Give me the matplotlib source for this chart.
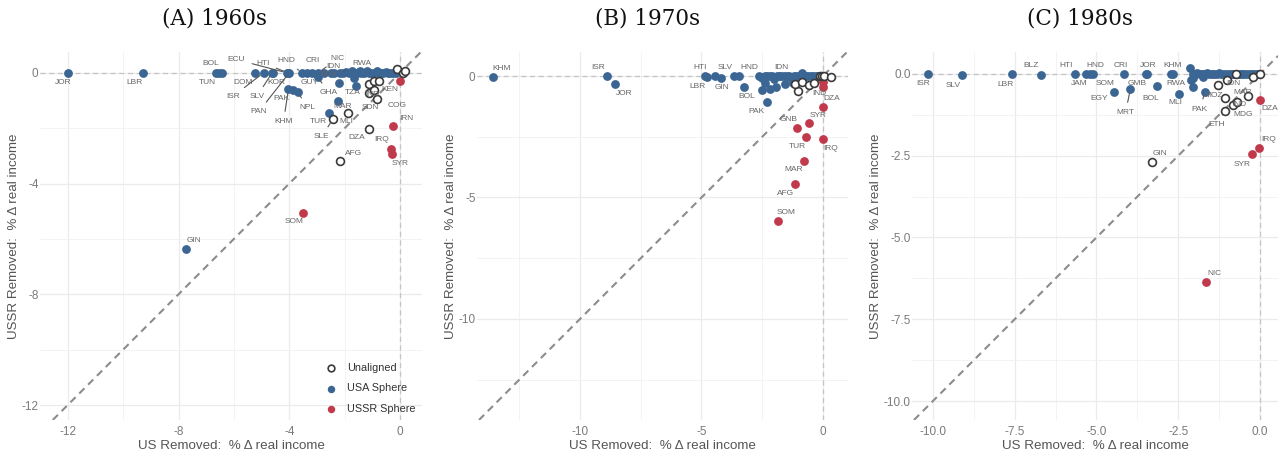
import matplotlib
matplotlib.use("Agg")
import matplotlib.pyplot as plt
import numpy as np

# ---- 1960s ----
a_code = ["JOR", "LBR", "TUN", "", "BOL", "DOM", "ISR", "SLV", "KOR",
          "ECU", "HTI", "PAN", "HND", "GUY", "CRI", "NIC", "EGY", "IDN", "RWA",
          "", "", "", "", "", "", "", "", "", "", "", "", "", "", "", "", "", "", "", "", "", "",
          "", "", "",
          "GHA", "KHM", "PAK", "NPL", "TZA", "", "", "MAR", "TUR", "GIN",
          "SOM", "IRN", "IRQ", "SYR", "COG",
          "AFG", "DZA", "MLI", "SLE", "SDN", "IND", "KEN", "", "", "", "", "", ""]
a_us = [-12.0, -9.27, -6.64, -6.53, -6.43, -5.23, -4.93, -4.62, -4.58,
        -4.10, -4.05, -4.00, -3.55, -3.37, -3.19, -2.95, -2.75, -2.50, -2.17,
        -2.40, -2.05, -1.95, -1.85, -1.75, -1.65, -1.55, -1.48, -1.40, -1.30, -1.20, -1.12,
        -1.05, -0.95, -0.85, -0.78, -0.70, -0.60, -0.50, -0.42, -0.35, -0.25,
        -1.45, -0.85, -0.15,
        -2.97, -4.03, -3.85, -3.69, -2.20, -1.59, -1.68, -2.26, -2.55, -7.74,
        -3.49, -0.24, -0.34, -0.30, 0.00,
        -2.17, -1.12, -1.87, -2.43, -0.84, -1.14, -0.93, -1.14, -0.96, -0.75, -0.12, 0.10, 0.18]
a_ussr = [0.0, 0.0, 0.0, 0.0, 0.0, 0.0, 0.0, 0.0, 0.0,
          0.0, 0.0, 0.0, 0.0, 0.0, 0.0, 0.0, -0.02, 0.0, 0.0,
          0.0, 0.0, 0.02, 0.0, 0.05, 0.0, 0.0, 0.03, 0.0, 0.0, 0.05, 0.0,
          0.0, 0.0, 0.04, 0.0, 0.0, 0.0, 0.02, 0.0, 0.0, 0.0,
          0.08, 0.06, 0.0,
          -0.17, -0.59, -0.63, -0.71, -0.36, -0.48, -0.20, -1.02, -1.44, -6.38,
          -5.05, -1.92, -2.74, -2.94, -0.29,
          -3.18, -2.04, -1.47, -1.68, -0.93, -0.72, -0.62, -0.42, -0.29, -0.29, 0.13, 0.00, 0.06]
a_bloc = ["A"] * 54 + ["S"] * 5 + ["U"] * 13

# ---- 1970s ----
b_code = ["KHM", "ISR", "JOR", "HTI", "LBR", "SLV", "GIN", "HND", "", "BOL",
          "", "PAK", "", "", "", "", "", "", "IDN",
          "", "", "", "", "", "", "", "", "", "", "", "", "", "", "", "", "", "", "", "", "", "",
          "", "", "",
          "", "", "DZA", "SYR", "GNB", "TUR", "IRQ", "MAR", "AFG", "SOM",
          "", "", "", "", "IND", "", "", "", ""]
b_us = [-13.59, -8.88, -8.56, -4.85, -4.78, -4.44, -4.21, -3.65, -3.44, -3.25,
        -2.52, -2.32, -2.18, -2.39, -1.93, -1.56, -0.85, -1.22, -1.73,
        -2.63, -2.50, -2.40, -2.30, -2.20, -2.10, -2.00, -1.90, -1.80, -1.62, -1.50, -1.40,
        -1.30, -1.20, -1.10, -1.00, -0.90, -0.80, -0.70, -0.60, -0.50, -0.40,
        -0.30, -0.20, -0.10,
        0.00, 0.00, 0.00, -0.56, -1.06, -0.70, 0.00, -0.78, -1.15, -1.84,
        -1.02, -1.15, -0.88, -0.56, -0.37, -0.12, -0.05, 0.05, 0.32]
b_ussr = [-0.03, 0.0, -0.33, 0.0, -0.02, 0.0, -0.10, 0.0, 0.0, -0.44,
          -0.58, -1.06, -0.55, -0.30, -0.44, -0.34, 0.11, -0.30, 0.0,
          0.0, -0.10, 0.0, 0.0, 0.0, 0.0, -0.12, 0.0, 0.0, 0.0, 0.0, 0.0,
          -0.08, 0.0, 0.0, 0.0, 0.0, 0.0, 0.0, 0.0, 0.0, 0.0,
          0.0, 0.0, 0.0,
          -0.23, -0.47, -1.26, -1.92, -2.15, -2.50, -2.61, -3.48, -4.44, -5.97,
          -0.60, -0.33, -0.23, -0.37, -0.30, 0.00, 0.00, 0.02, -0.03]
b_bloc = ["A"] * 44 + ["S"] * 10 + ["U"] * 9

# ---- 1980s ----
c_code = ["ISR", "SLV", "LBR", "BLZ", "HTI", "JAM", "HND", "SOM", "CRI", "EGY",
          "MRT", "JOR", "GMB", "BOL", "KHM", "RWA", "MLI", "", "", "PAK",
          "", "", "", "", "", "", "", "", "", "", "", "", "", "", "", "", "",
          "", "", "", "", "", "", "", "", "", "", "", "", "", "",
          "DZA", "IRQ", "SYR", "NIC",
          "GIN", "MOZ", "IDN", "", "IND", "MDG", "ETH", "MAR", "", "", ""]
c_us = [-10.14, -9.10, -7.57, -6.71, -5.66, -5.32, -5.20, -5.12, -4.16, -4.46,
        -3.96, -3.50, -3.47, -3.14, -2.72, -2.65, -2.47, -2.14, -2.06, -1.68,
        -2.10, -2.05, -2.00, -1.92, -1.85, -1.78, -1.70, -1.62, -1.55, -1.48, -1.40,
        -1.32, -1.25, -1.18, -1.10, -1.00, -0.92, -0.85, -0.78, -0.70, -0.62,
        -0.55, -0.48, -0.40, -0.32, -0.25, -0.18, -0.10, -0.05, -2.05, -1.75,
        0.00, -0.02, -0.25, -1.66,
        -3.31, -1.27, -1.02, -1.07, -0.84, -0.71, -1.07, -0.36, -0.22, -0.73, 0.00]
c_ussr = [0.0, -0.04, 0.0, -0.04, 0.0, 0.0, 0.0, 0.0, 0.0, -0.56,
          -0.45, 0.0, 0.0, -0.37, 0.0, 0.0, -0.61, 0.17, -0.39, -0.56,
          -0.20, 0.0, 0.0, 0.03, 0.0, 0.0, 0.0, 0.02, 0.0, 0.0, 0.0,
          0.0, 0.03, 0.0, 0.0, 0.0, 0.0, 0.0, 0.0, 0.0, 0.0,
          0.0, 0.0, 0.0, 0.0, 0.0, 0.0, 0.0, 0.0, -0.13, -0.08,
          -0.80, -2.27, -2.46, -6.37,
          -2.68, -0.34, -0.18, -0.74, -0.95, -0.87, -1.13, -0.69, -0.10, 0.00, 0.00]
c_bloc = ["A"] * 51 + ["S"] * 4 + ["U"] * 11

titles = ["(A) 1960s", "(B) 1970s", "(C) 1980s"]

# label offsets in points (x right, y up); codes in *_lines get a leader segment
a_off = {"JOR": (-3.5, -7), "LBR": (-6, -7), "TUN": (-6.5, -7), "BOL": (-8, 6.5),
         "ECU": (-36, 9.5), "HTI": (-18, 7), "DOM": (-9, -7), "ISR": (-22, -17),
         "SLV": (-11, -17), "KOR": (2, -7), "PAN": (-22, -28), "PAK": (-9, -6),
         "KHM": (-3.6, -23.5), "NPL": (7, -11), "HND": (-11, 9), "CRI": (0.7, 9),
         "GUY": (2, -7), "NIC": (14, 10.5), "IDN": (2, 4.5), "EGY": (4, -1),
         "RWA": (15.5, 7), "GHA": (8, -11), "TZA": (10, -7), "IND": (3, -1),
         "KEN": (11, 0), "COG": (-2.4, -17.5), "MAR": (3.6, -4), "SDN": (-5, -6.8),
         "TUR": (-8, -6.5), "SLE": (-8, -12.5), "MLI": (-1.2, -6), "DZA": (-9, -6),
         "IRN": (9, 5), "IRQ": (-6.5, 6.3), "SYR": (6, -7), "AFG": (10, 5),
         "SOM": (-6.5, -6.5), "GIN": (6, 6.3)}
a_lines = {"ECU", "HTI", "ISR", "SLV", "PAN", "KHM", "NPL", "HND", "NIC",
           "RWA", "GHA", "TZA", "SLE"}
b_off = {"KHM": (6.5, 6), "ISR": (-6.5, 6.3), "JOR": (6.5, -6.7), "HTI": (-3.6, 6.3),
         "LBR": (-7, -7), "SLV": (7, 6.3), "GIN": (1, -6.5), "HND": (11, 6.3),
         "BOL": (2, -6.7), "IDN": (0, 6.3), "PAK": (-7, -6.7), "GNB": (-6.5, 6),
         "SYR": (6.5, 5.5), "IND": (4, -7), "DZA": (6, 6), "TUR": (-6.3, -6.7),
         "IRQ": (5.5, -6.5), "MAR": (-7.7, -6.2), "AFG": (-7, -6.7), "SOM": (6, 6)}
b_lines = set()
c_off = {"ISR": (-4, -7.2), "SLV": (-6.5, -7.2), "LBR": (-5, -7.4), "BLZ": (-6.5, 6.7),
         "HTI": (-6.7, 5.8), "JAM": (-4.8, -6.7), "HND": (3.6, 6.3), "SOM": (9, -6.7),
         "EGY": (-11, -4.3), "CRI": (-2, 6.3), "GMB": (-7, -6.7), "MRT": (-3.6, -17.3),
         "JOR": (2, 6.3), "BOL": (-5, -9), "KHM": (1.2, 6.3), "RWA": (2, -6.7),
         "MLI": (-2.6, -6.3), "PAK": (-4, -12.2), "MOZ": (-3.6, -7.2), "IDN": (5, -2.4),
         "MAR": (-4, 3), "IND": (5, 0), "MDG": (4.3, -8.4), "ETH": (-6, -10),
         "DZA": (7, -6), "IRQ": (6.5, 6), "SYR": (-7, -7), "GIN": (6, 6), "NIC": (6, 6)}
c_lines = {"MRT", "PAK", "ETH"}

blue = "#3b6593"
red = "#c03a4b"

fig = plt.figure(figsize=(12.83, 4.57), dpi=100)

rects = [[40 / 1283, 37 / 457, 382 / 1283, 368 / 457],
         [477 / 1283, 37 / 457, 371 / 1283, 368 / 457],
         [912 / 1283, 37 / 457, 366 / 1283, 368 / 457]]
lims = [((-13.0, 0.79), (-12.54, 0.75)),
        ((-14.24, 1.03), (-14.16, 0.99)),
        ((-10.64, 0.55), (-10.58, 0.67))]
major = [[-12, -8, -4, 0], [-10, -5, 0], [-10, -7.5, -5, -2.5, 0]]
minor = [[-10, -6, -2], [-12.5, -7.5, -2.5], [-8.75, -6.25, -3.75, -1.25]]
fmts = ["{:.0f}", "{:.0f}", "{:.1f}"]
title_x = [215, 648, 1080]

panels = [(a_code, a_us, a_ussr, a_bloc, a_off, a_lines),
          (b_code, b_us, b_ussr, b_bloc, b_off, b_lines),
          (c_code, c_us, c_ussr, c_bloc, c_off, c_lines)]

for i, (codes, us, ussr, bloc, offs, lines) in enumerate(panels):
    ax = fig.add_axes(rects[i])
    us = np.array(us)
    ussr = np.array(ussr)
    bloc = np.array(bloc)

    ax.set_xlim(*lims[i][0])
    ax.set_ylim(*lims[i][1])
    for s in ax.spines.values():
        s.set_visible(False)
    ax.set_xticks(major[i])
    ax.set_yticks(major[i])
    ax.set_xticks(minor[i], minor=True)
    ax.set_yticks(minor[i], minor=True)
    ax.set_xticklabels([fmts[i].format(v) for v in major[i]])
    ax.set_yticklabels([fmts[i].format(v) for v in major[i]])
    ax.tick_params(which="both", length=0, colors="#7a7a7a", labelsize=8.5)
    ax.tick_params(axis="x", pad=4)
    ax.tick_params(axis="y", pad=1)
    ax.grid(which="major", color="#ebebeb", lw=0.9)
    ax.grid(which="minor", color="#f1f1f1", lw=0.6)
    ax.set_axisbelow(True)

    ax.axhline(0, color="#c4c4c4", lw=0.9, ls=(0, (4, 3)), zorder=1)
    ax.axvline(0, color="#c4c4c4", lw=0.9, ls=(0, (4, 3)), zorder=1)
    ax.axline((0, 0), slope=1, color="#8c8c8c", lw=1.5, ls=(0, (3.5, 2.5)), zorder=1)

    m = bloc == "A"
    ax.scatter(us[m], ussr[m], s=40, color=blue, lw=0, zorder=3, label="USA Sphere")
    m = bloc == "S"
    ax.scatter(us[m], ussr[m], s=40, color=red, lw=0, zorder=3, label="USSR Sphere")
    m = bloc == "U"
    ax.scatter(us[m], ussr[m], s=32, facecolor="white", edgecolor="#3a3a3a", lw=1.2,
               zorder=4, label="Unaligned")

    for code, x, y in zip(codes, us, ussr):
        if not code:
            continue
        dx, dy = offs.get(code, (0, 6))
        arrow = None
        if code in lines:
            arrow = dict(arrowstyle="-", color="#555555", lw=0.8, shrinkA=3, shrinkB=3)
        ax.annotate(code, (x, y), xytext=(dx, dy), textcoords="offset points",
                    ha="center", va="center", fontsize=6, color="#666666",
                    family="Liberation Sans", arrowprops=arrow, zorder=5)

    ax.set_xlabel("US Removed:  % \u0394 real income", fontsize=9.6, color="#555555",
                  family="Liberation Sans", labelpad=2)
    ax.set_ylabel("USSR Removed:  % \u0394 real income", fontsize=9.6, color="#555555",
                  family="Liberation Sans", labelpad=1)
    for t in ax.get_xticklabels() + ax.get_yticklabels():
        t.set_family("Liberation Sans")

    fig.text(title_x[i] / 1283, 1 - 18 / 457, titles[i], ha="center", va="center",
             fontsize=15.5, family="DejaVu Serif", color="#111111")

    if i == 0:
        h, l = ax.get_legend_handles_labels()
        order = [2, 0, 1]
        leg = ax.legend([h[k] for k in order], [l[k] for k in order], loc="lower left",
                        bbox_to_anchor=(0.714, -0.005), frameon=False,
                        labelspacing=1.0, handletextpad=0.5, borderpad=0.2,
                        markerscale=0.85,
                        prop={"family": "Liberation Sans", "size": 7.8})
        for t in leg.get_texts():
            t.set_color("#333333")

fig.savefig("out.png", dpi=100)
